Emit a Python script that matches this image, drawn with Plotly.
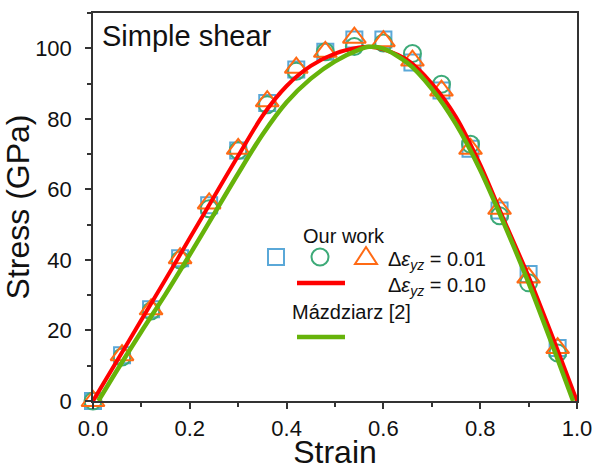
import plotly.graph_objects as go

# ---- data ----
strain_pts = [0.00, 0.06, 0.12, 0.18, 0.24, 0.30, 0.36, 0.42, 0.48, 0.54,
              0.60, 0.66, 0.72, 0.78, 0.84, 0.90, 0.96]
stress_sq = [0, 13, 26, 40.5, 55.5, 71, 84.5, 94, 99, 102.5,
             102.5, 96, 88, 71.5, 54, 36, 15]
stress_ci = [0, 12.5, 25.5, 40, 54.5, 71, 84, 93.5, 99, 100.5,
             101.5, 98.5, 89.8, 72.8, 52.5, 33.5, 13.6]
stress_tr = [0, 13, 26, 40.5, 56, 71.5, 85, 94.5, 99, 103,
             102, 96.5, 88, 71.5, 54.5, 35, 15]

strain_red = [0.00, 0.05, 0.10, 0.15, 0.20, 0.25, 0.30, 0.35, 0.40, 0.45, 0.50,
              0.55, 0.57, 0.60, 0.65, 0.70, 0.75, 0.80, 0.85, 0.90, 0.95, 1.00]
stress_red = [0, 11.5, 23, 34.5, 46.2, 57.9, 69.5, 80.8, 89.3, 95, 98.5,
              100.2, 100.4, 99.7, 96.6, 90, 80.5, 67, 51, 35.3, 18, 0]

strain_grn = [0.011, 0.05, 0.10, 0.15, 0.20, 0.25, 0.30, 0.35, 0.40, 0.45, 0.50,
              0.55, 0.57, 0.60, 0.65, 0.70, 0.75, 0.80, 0.85, 0.90, 0.95, 0.992]
stress_grn = [0, 8.8, 19.7, 30.3, 41.5, 53, 64.5, 75.5, 84.7, 91.4, 96.3,
              99.6, 100.4, 99.9, 95.8, 88.5, 78.5, 65.5, 50, 33.5, 15.5, 0]

x_ticks = [0.0, 0.2, 0.4, 0.6, 0.8, 1.0]
y_ticks = [0, 20, 40, 60, 80, 100]

C_SQ = "#5AA8D8"
C_CI = "#3DAA78"
C_TR = "#FF6A14"
C_RED = "#FF0000"
C_GRN = "#66B30A"

FONT = "Liberation Sans, Arial, sans-serif"

fig = go.Figure()
fig.add_trace(go.Scatter(x=strain_pts, y=stress_sq, mode="markers", cliponaxis=False,
                         marker=dict(symbol="square-open", size=16, color=C_SQ, line=dict(width=2, color=C_SQ))))
fig.add_trace(go.Scatter(x=strain_pts, y=stress_ci, mode="markers", cliponaxis=False,
                         marker=dict(symbol="circle-open", size=17, color=C_CI, line=dict(width=2, color=C_CI))))
fig.add_trace(go.Scatter(x=strain_pts, y=stress_tr, mode="markers", cliponaxis=False,
                         marker=dict(symbol="triangle-up-open", size=20, color=C_TR, line=dict(width=2, color=C_TR))))
fig.add_trace(go.Scatter(x=strain_red, y=stress_red, mode="lines", line=dict(color=C_RED, width=4, shape="spline", smoothing=0.8)))
fig.add_trace(go.Scatter(x=strain_grn, y=stress_grn, mode="lines", line=dict(color=C_GRN, width=4.5, shape="spline", smoothing=0.8)))

axis_common = dict(showline=True, linecolor="#333333", linewidth=1.5, mirror=True,
                   ticks="outside", ticklen=6, tickwidth=1.5, tickcolor="#333333",
                   showgrid=False, zeroline=False, automargin=False,
                   tickfont=dict(family=FONT, size=22, color="#111111"))

fig.update_xaxes(range=[0, 1], tickvals=x_ticks, ticktext=[f"{v:.1f}" for v in x_ticks],
                 minor=dict(ticks="outside", ticklen=4, dtick=0.1, tickcolor="#333333", tickwidth=1.5),
                 title=dict(text="Strain", font=dict(family=FONT, size=32, color="#111111"), standoff=11),
                 ticklabelstandoff=1,
                 **axis_common)
fig.update_yaxes(range=[0, 110], tickvals=y_ticks, ticktext=[str(v) for v in y_ticks],
                 minor=dict(ticks="outside", ticklen=4, dtick=10, tickcolor="#333333", tickwidth=1.5),
                 title=dict(text="Stress (GPa)", font=dict(family=FONT, size=32, color="#111111"), standoff=0),
                 ticklabelstandoff=9,
                 **axis_common)

# ---- custom legend (paper coordinates) ----
def px2x(px):
    return (px - 93) / 484.0

def px2y(py):
    return (401 - py) / 388.0

shapes = []
shapes.append(dict(type="rect", xref="paper", yref="paper", xsizemode="pixel", ysizemode="pixel",
                   xanchor=px2x(276), yanchor=px2y(257), x0=-8, x1=8, y0=-8, y1=8,
                   line=dict(color=C_SQ, width=2)))
shapes.append(dict(type="circle", xref="paper", yref="paper", xsizemode="pixel", ysizemode="pixel",
                   xanchor=px2x(320), yanchor=px2y(257), x0=-8.5, x1=8.5, y0=-8.5, y1=8.5,
                   line=dict(color=C_CI, width=2)))
shapes.append(dict(type="path", xref="paper", yref="paper", xsizemode="pixel", ysizemode="pixel",
                   xanchor=px2x(366), yanchor=px2y(257), path="M -11,-7 L 11,-7 L 0,10 Z",
                   line=dict(color=C_TR, width=2)))
shapes.append(dict(type="line", xref="paper", yref="paper", x0=px2x(297), x1=px2x(345),
                   y0=px2y(283), y1=px2y(283), line=dict(color=C_RED, width=4.5)))
shapes.append(dict(type="line", xref="paper", yref="paper", x0=px2x(297), x1=px2x(345),
                   y0=px2y(337), y1=px2y(337), line=dict(color=C_GRN, width=4.5)))

lf = dict(family=FONT, size=20, color="#111111")
annotations = [
    dict(text="Our work", x=px2x(344), y=px2y(236), xref="paper", yref="paper",
         showarrow=False, xanchor="center", yanchor="middle", font=lf),
    dict(text="Δ<i>ε</i><sub><i>yz</i></sub> = 0.01", x=px2x(386), y=px2y(260), xref="paper", yref="paper",
         showarrow=False, xanchor="left", yanchor="middle", font=lf),
    dict(text="Δ<i>ε</i><sub><i>yz</i></sub> = 0.10", x=px2x(386), y=px2y(286), xref="paper", yref="paper",
         showarrow=False, xanchor="left", yanchor="middle", font=lf),
    dict(text="Mázdziarz [2]", x=px2x(351), y=px2y(312), xref="paper", yref="paper",
         showarrow=False, xanchor="center", yanchor="middle", font=lf),
    dict(text="Simple shear", x=px2x(100), y=px2y(36), xref="paper", yref="paper",
         showarrow=False, xanchor="left", yanchor="middle",
         font=dict(family=FONT, size=29, color="#111111")),
]

fig.update_layout(width=609, height=470, margin=dict(l=93, r=32, t=13, b=69),
                  paper_bgcolor="white", plot_bgcolor="white", showlegend=False,
                  shapes=shapes, annotations=annotations)

# remove the default 8px page margin so the figure sits at the window's corner
fig.write_html("out.html", config={"displayModeBar": False},
               post_script="document.body.style.margin='0';document.body.style.overflow='hidden';")
